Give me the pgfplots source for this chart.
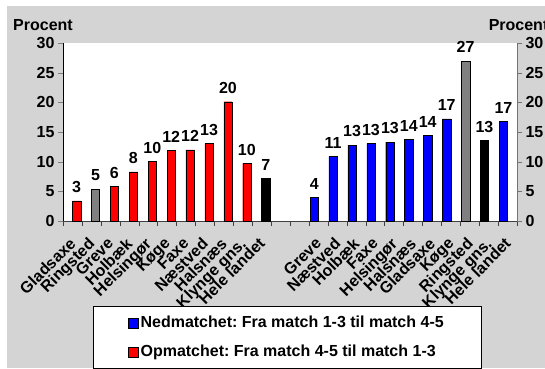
\documentclass[border=0pt]{standalone}
\usepackage{fontspec}
\setmainfont{Liberation Sans}
\usepackage{pgfplots}
\usepackage{pgfplotstable}
\pgfplotsset{compat=1.18}
\definecolor{bggray}{RGB}{212,212,212}
\definecolor{bargray}{RGB}{128,128,128}
\newcommand{\chf}{\bfseries\fontsize{16}{16}\selectfont}
\frenchspacing

\pgfplotstableread{
x y l
0 3.4 3
2 5.8 6
3 8.3 8
4 10.0 10
5 11.9 12
6 12.0 12
7 13.1 13
8 20.1 20
9 9.7 10
}\redtab
\pgfplotstableread{
x y l
1 5.4 5
}\graylefttab
\pgfplotstableread{
x y l
10 7.2 7
}\blacklefttab
\pgfplotstableread{
x y l
13 4.0 4
14 10.9 11
15 12.8 13
16 13.1 13
17 13.3 13
18 13.8 14
19 14.4 14
20 17.2 17
23 16.8 17
}\bluetab
\pgfplotstableread{
x y l
21 27.0 27
}\grayrighttab
\pgfplotstableread{
x y l
22 13.6 13
}\blackrighttab

\begin{document}
\begin{tikzpicture}
\useasboundingbox (0pt,0pt) rectangle (545pt,368pt);
\clip (0pt,0pt) rectangle (545pt,368pt);
\fill[white] (0pt,0pt) rectangle (545pt,368pt);
\fill[bggray] (7pt,0pt) rectangle (545pt,362pt);
\begin{axis}[
  at={(63pt,147pt)}, anchor=south west,
  width=454pt, height=178pt, scale only axis,
  xmin=-0.5, xmax=23.5, ymin=0, ymax=30,
  ybar, bar width=8.3pt,
  axis background/.style={fill=white},
  axis x line*=bottom, axis y line*=left,
  axis line style={-},
  x axis line style={draw=black!75},
  tick align=outside,
  major tick length=5pt, minor tick length=5pt,
  ytick={0,5,...,30},
  xtick={0,...,10,13,14,...,23},
  xticklabels={Gladsaxe,Ringsted,Greve,Holbæk,Helsingør,Køge,Faxe,Næstved,Halsnæs,Klynge gns.,Hele landet,Greve,Næstved,Holbæk,Faxe,Helsingør,Halsnæs,Gladsaxe,Køge,Ringsted,Klynge gns.,Hele landet},
  major x tick style={draw=none},
  minor xtick={-0.5,0.5,...,23.5},
  minor x tick style={draw=black!75},
  xticklabel style={xshift=-4pt, yshift=-9pt, rotate=45, anchor=north east, font=\chf, inner sep=1pt},
  yticklabel style={font=\chf},
  /pgf/number format/assume math mode=true,
  ylabel={Procent},
  every axis y label/.style={at={(axis description cs:-0.044,1.101)}, anchor=center, font=\chf},
  point meta=explicit symbolic,
  nodes near coords,
  every node near coord/.append style={font=\chf, yshift=4.5pt, text=black},
  legend style={at={(axis description cs:0.066,-0.4775)}, anchor=north west,
    fill=white, draw=black, font=\chf, inner xsep=35pt, inner ysep=8pt,
    row sep=12pt, legend cell align=left, nodes={inner sep=2pt}},
]
\addlegendimage{legend image code/.code={\draw[fill=blue,draw=black] (0pt,-5pt) rectangle (10pt,5pt);}}
\addlegendentry{Nedmatchet: Fra match 1-3 til match 4-5}
\addlegendimage{legend image code/.code={\draw[fill=red,draw=black] (0pt,-5pt) rectangle (10pt,5pt);}}
\addlegendentry{Opmatchet: Fra match 4-5 til match 1-3}

\addplot[forget plot, fill=red, draw=black, bar shift=4.15pt] table[x=x,y=y,meta=l] {\redtab};
\addplot[forget plot, fill=bargray, draw=black, bar shift=4.15pt] table[x=x,y=y,meta=l] {\graylefttab};
\addplot[forget plot, fill=black, draw=black, bar shift=4.15pt] table[x=x,y=y,meta=l] {\blacklefttab};
\addplot[forget plot, fill=blue, draw=black, bar shift=-4.15pt] table[x=x,y=y,meta=l] {\bluetab};
\addplot[forget plot, fill=bargray, draw=black, bar shift=-4.15pt] table[x=x,y=y,meta=l] {\grayrighttab};
\addplot[forget plot, fill=black, draw=black, bar shift=-4.15pt] table[x=x,y=y,meta=l] {\blackrighttab};
\end{axis}
\begin{axis}[
  at={(63pt,147pt)}, anchor=south west,
  width=454pt, height=178pt, scale only axis,
  xmin=-0.5, xmax=23.5, ymin=0, ymax=30,
  axis x line=none, axis y line*=right,
  axis line style={-, draw=black!55},
  tick align=outside, major tick length=5pt,
  ytick={0,5,...,30},
  ytick style={draw=black!55},
  yticklabel style={font=\chf},
  /pgf/number format/assume math mode=true,
  ylabel={Procent},
  every axis y label/.style={at={(axis description cs:0.93,1.101)}, anchor=west, font=\chf},
]
\end{axis}
\end{tikzpicture}
\end{document}
